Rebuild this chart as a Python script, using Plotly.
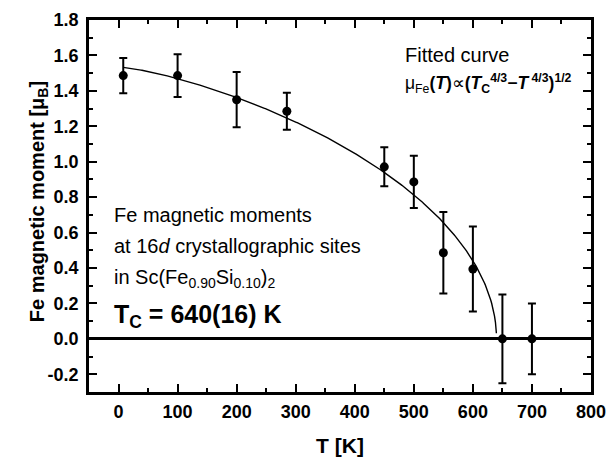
import numpy as np
import plotly.graph_objects as go

# ---- data ----
temperature_K = [8, 100, 200, 285, 450, 500, 550, 600, 650, 700]
moment_muB = [1.486, 1.486, 1.350, 1.285, 0.971, 0.886, 0.486, 0.394, 0.0, 0.0]
moment_err = [0.10, 0.12, 0.156, 0.105, 0.11, 0.147, 0.23, 0.24, 0.25, 0.20]

# fitted curve parameters: mu(T) = mu0 * (1 - (T/Tc)^(4/3))^(1/2)
fit_Tc = 640.0
fit_mu0 = 1.535
fit_T_start = 8.0
fit_T_end = 639.8

x_ticks = [0, 100, 200, 300, 400, 500, 600, 700, 800]
y_ticks = [-0.2, 0.0, 0.2, 0.4, 0.6, 0.8, 1.0, 1.2, 1.4, 1.6, 1.8]

fit_T = np.linspace(fit_T_start, fit_T_end, 400)
fit_mu = fit_mu0 * np.sqrt(1.0 - (fit_T / fit_Tc) ** (4.0 / 3.0))

FONT = "Liberation Sans, Arial, sans-serif"

fig = go.Figure()
fig.add_trace(go.Scatter(
    x=fit_T, y=fit_mu, mode="lines",
    line=dict(color="black", width=1.4),
    showlegend=False, hoverinfo="skip",
))
fig.add_trace(go.Scatter(
    x=temperature_K, y=moment_muB, mode="markers",
    marker=dict(color="black", size=9),
    error_y=dict(type="data", array=moment_err, visible=True,
                 color="black", thickness=2, width=4),
    showlegend=False,
))

axis_common = dict(
    showline=True, linecolor="black", linewidth=2.5, mirror="ticks",
    ticks="inside", ticklen=8, tickwidth=2, tickcolor="black",
    showgrid=False,
    tickfont=dict(family=FONT, size=18, color="black", weight="bold"),
)

fig.update_xaxes(
    **axis_common,
    range=[-50, 800], tickvals=x_ticks, ticktext=[str(v) for v in x_ticks],
    minor=dict(ticks="inside", ticklen=4, tickwidth=2, tickcolor="black", dtick=50, tick0=0),
    zeroline=False,
    ticklabelstandoff=2,
    title=dict(text="<b>T [K]</b>", font=dict(family=FONT, size=21, color="black"), standoff=18),
)
fig.update_yaxes(
    **axis_common,
    range=[-0.3, 1.8], tickvals=y_ticks, ticktext=[f"{v:.1f}" for v in y_ticks],
    minor=dict(ticks="inside", ticklen=4, tickwidth=2, tickcolor="black", dtick=0.1, tick0=0),
    zeroline=True, zerolinecolor="black", zerolinewidth=2.5,
    ticklabelstandoff=4,
)

ann_font = dict(family=FONT, size=20, color="black")
annotations = [
    # y-axis title placed precisely
    dict(x=-0.1016, y=0.513, text="<b>Fe magnetic moment [μ<sub>B</sub>]</b>",
         font=dict(family=FONT, size=20, color="black"), textangle=-90, xanchor="center"),
    dict(x=0.6255, y=0.906, text="Fitted curve", font=ann_font),
    dict(x=0.6255, y=0.830,
         text="μ<sub>Fe</sub><b>(<i>T</i>)</b>∝<b>(<i>T</i><sub>C</sub><sup>4/3</sup>−<i>T</i><sup> 4/3</sup>)<sup>1/2</sup></b>",
         font=dict(family=FONT, size=17.5, color="black")),
    dict(x=0.0458, y=0.475, text="Fe magnetic moments", font=ann_font),
    dict(x=0.0458, y=0.392, text="at 16<i>d</i> crystallographic sites", font=ann_font),
    dict(x=0.0458, y=0.305, text="in Sc(Fe<sub>0.90</sub>Si<sub>0.10</sub>)<sub>2</sub>", font=ann_font),
    dict(x=0.0458, y=0.205, text="<b>T<sub>C</sub> = 640(16) K</b>", font=dict(family=FONT, size=25, color="black")),
]
for a in annotations:
    a.setdefault("xanchor", "left")
    a.update(xref="paper", yref="paper", yanchor="middle", showarrow=False)

fig.update_layout(
    width=608, height=457,
    margin=dict(l=89, r=17, t=20, b=65, autoexpand=False),
    paper_bgcolor="white", plot_bgcolor="white",
    annotations=annotations,
    font=dict(family=FONT, color="black"),
)

fig.write_html(
    "out.html",
    config={"displayModeBar": False},
    post_script="document.body.style.margin='0';document.body.style.overflow='hidden';",
)
